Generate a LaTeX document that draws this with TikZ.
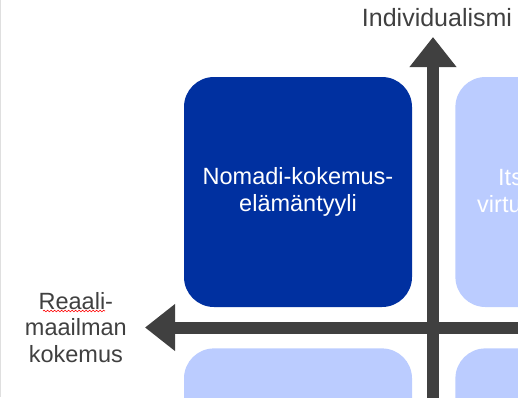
\documentclass[tikz,border=0pt]{standalone}
\usepackage{fontspec}
\setmainfont{Liberation Sans}
\usepackage{tikz}
\usetikzlibrary{arrows.meta, positioning, decorations.pathmorphing}

\definecolor{nomadblue}{RGB}{0,48,160}
\definecolor{paleblue}{RGB}{187,204,255}
\definecolor{axisgray}{RGB}{64,64,64}

\begin{document}
\begin{tikzpicture} [
        x = 1pt, y = -1pt,
        font = \fontsize{23.5}{26.5}\selectfont,
        quadrant/.style = {rounded corners=30pt, minimum width=228pt, minimum height=230pt, inner sep=0pt},
        axis/.style = {draw=axisgray, line width=12pt, -{Triangle[width=45pt, length=30pt]}},
        axislabel/.style = {text=axisgray, inner sep=0pt, align=center},
        boxtext/.style = {text=white, inner sep=0pt, align=center}
    ]

    \useasboundingbox (0,0) rectangle (518,397);
    \clip (0,0) rectangle (518,397);
    \draw[gray!25] (0.5,0) -- (0.5,397);

    % quadrants
    \node[quadrant, fill=nomadblue, boxtext] (nomadi) at (298,192) {Nomadi-kokemus-\\elämäntyyli};
    \node[quadrant, fill=paleblue, right = 43pt of nomadi] (itse) {};
    \node[quadrant, fill=paleblue, below = 41pt of nomadi] (alavasen) {};
    \node[quadrant, fill=paleblue, below = 41pt of itse]   (alaoikea) {};
    \node[boxtext, anchor=base west] (itseA) at (498,185) {Its};
    \node[boxtext, anchor=base west] (itseB) at (477,212) {virtu};

    % axes
    \coordinate (ytip) at (433,37);
    \coordinate (ybot) at (433,405);
    \coordinate (xtip) at (145,327.5);
    \coordinate (xend) at (530,327.5);
    \draw[axis] (xend) -- (xtip);
    \draw[axis] (ybot) -- (ytip);

    \node[axislabel, above = 10pt of ytip, xshift=4pt, font=\fontsize{25}{28}\selectfont] (yakseli) {Individualismi};
    \node[axislabel, left  = 18pt of xtip]             (xakseli) {Reaali-\\maailman\\kokemus};
    \draw[red, line width=0.6pt, decorate, decoration={snake, amplitude=0.8pt, segment length=3.5pt}]
        (43,311) -- (105,311);

\end{tikzpicture}
\end{document}
